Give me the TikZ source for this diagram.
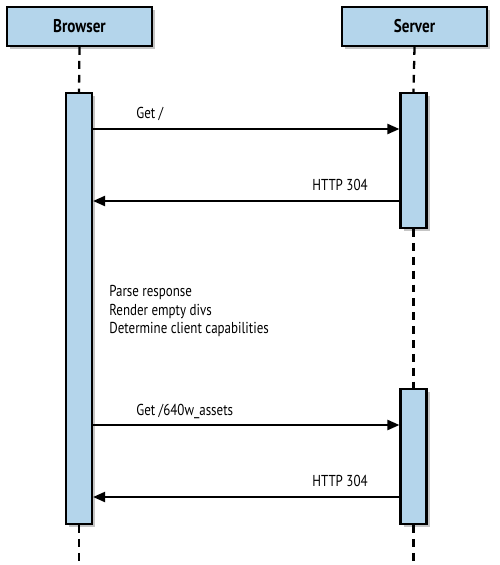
\documentclass[tikz,border=0pt]{standalone}
\usepackage{fontspec}
\setmainfont{PT Sans}[FakeStretch=0.82]
\usetikzlibrary{arrows.meta,shadows}
\definecolor{BarClr}{RGB}{180,213,235}

\tikzset{
  headbox/.style={draw=black,line width=1.2pt,fill=BarClr,minimum width=2.9cm,minimum height=0.78cm,
    font=\fontsize{10.5}{12}\selectfont\bfseries,drop shadow={shadow xshift=0.06cm,shadow yshift=-0.06cm,fill=black!45}},
  actbar/.style={draw=black,line width=1.2pt,fill=BarClr,minimum width=0.52cm,inner sep=0pt,
    drop shadow={shadow xshift=0.06cm,shadow yshift=-0.06cm,fill=black!45}},
  lifeline/.style={line width=1.3pt,dash pattern=on 4.5pt off 3.4pt},
  msg/.style={line width=1.2pt,-{Triangle[length=0.24cm,width=0.2cm]}},
  msglabel/.style={inner sep=0pt,font=\fontsize{9}{10.5}\selectfont}
}

\begin{document}
\begin{tikzpicture}[x=0.02cm,y=-0.02cm]
\useasboundingbox (0,0) rectangle (500,565);

\node[headbox] (browser) at (79.5,26.5) {Browser};
\node[headbox] (server) at (414.5,26.5) {Server};

\node[actbar,minimum height=8.62cm] (bbar) at (79,308.5) {};
\node[actbar,minimum height=2.7cm] (sbarA) at (413.5,160.5) {};
\node[actbar,minimum height=2.7cm] (sbarB) at (413.5,456.5) {};

\coordinate (bottom) at (0,565);
\draw[lifeline] (browser.south) -- (bbar.north);
\draw[lifeline] (bbar.south) -- (bbar.south |- bottom);
\draw[lifeline] (server.south) -- (sbarA.north);
\draw[lifeline] (sbarA.south) -- (sbarB.north);
\draw[lifeline] (sbarB.south) -- (sbarB.south |- bottom);

% messages
\coordinate (m1) at (0,129);
\coordinate (m2) at (0,201);
\coordinate (m3) at (0,425);
\coordinate (m4) at (0,497);
\draw[msg] (bbar.east |- m1) -- (sbarA.west |- m1);
\draw[msg] (sbarA.west |- m2) -- (bbar.east |- m2);
\draw[msg] (bbar.east |- m3) -- (sbarB.west |- m3);
\draw[msg] (sbarB.west |- m4) -- (bbar.east |- m4);

\node[msglabel,anchor=base west] (getroot) at (136,118) {Get /};
\node[msglabel,anchor=base east] (okA) at (368,190) {HTTP 304};
\node[msglabel,anchor=base west] (getassets) at (136,415) {Get /640w\_assets};
\node[msglabel,anchor=base east] (okB) at (368,486) {HTTP 304};

\node[msglabel,anchor=west,align=left] (steps) at (109,311)
  {Parse response\\Render empty divs\\Determine client capabilities};

\end{tikzpicture}
\end{document}
